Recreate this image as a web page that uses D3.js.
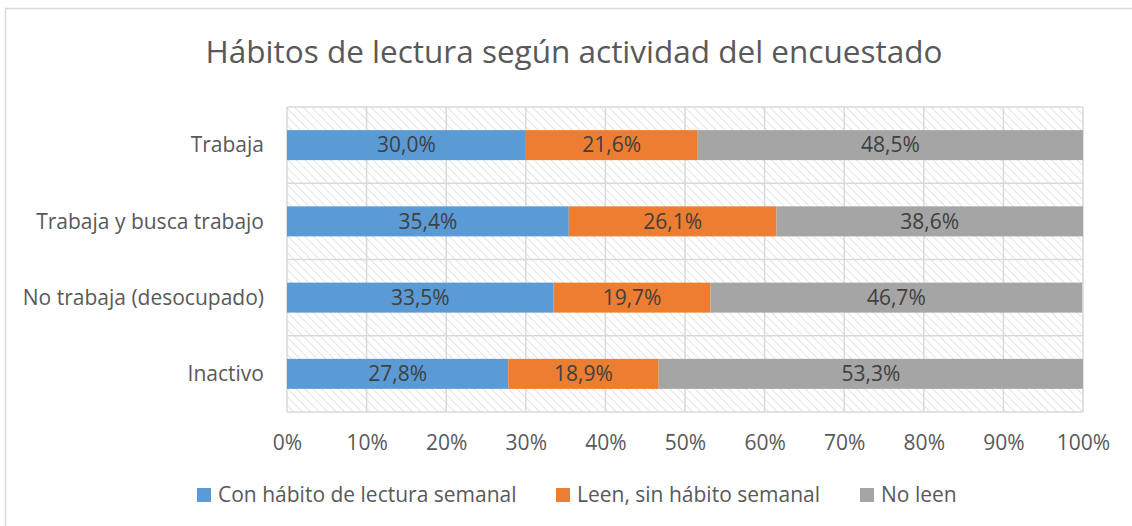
<!DOCTYPE html>
<html><head><meta charset="utf-8">
<script src="https://cdn.jsdelivr.net/npm/d3@7"></script>
<style>body{margin:0;background:#fff;}svg{display:block;font-family:"Open Sans",sans-serif;}</style>
</head><body><svg id="c" width="1132" height="526"></svg>
<script>
const title = "Hábitos de lectura según actividad del encuestado";
const categories = ["Trabaja", "Trabaja y busca trabajo", "No trabaja (desocupado)", "Inactivo"];
const seriesNames = ["Con hábito de lectura semanal", "Leen, sin hábito semanal", "No leen"];
const conHabito = [30.0, 35.4, 33.5, 27.8];
const sinHabito = [21.6, 26.1, 19.7, 18.9];
const noLeen = [48.5, 38.6, 46.7, 53.3];
const colors = ["#5B9BD5", "#ED7D31", "#A5A5A5"];
const xTicks = [0,10,20,30,40,50,60,70,80,90,100];

const svg = d3.select("#c");
const plot = {l: 287, r: 1083, t: 107, b: 412};
const FS = 21;

svg.append("rect").attr("x",5.5).attr("y",8.5).attr("width",1140).attr("height",540)
  .attr("fill","#fff").attr("stroke","#d9d9d9").attr("stroke-width",1.5);

const defs = svg.append("defs");
const pat = defs.append("pattern").attr("id","hatch").attr("patternUnits","userSpaceOnUse")
  .attr("width",6).attr("height",6).attr("patternTransform","rotate(-45)");
pat.append("rect").attr("width",6).attr("height",6).attr("fill","#fff");
pat.append("line").attr("x1",0).attr("y1",0).attr("x2",0).attr("y2",6)
  .attr("stroke","#d6d6d6").attr("stroke-width",1.3);

const x = d3.scaleLinear().domain([0,100]).range([plot.l, plot.r]);
const y = d3.scaleBand().domain(categories).range([plot.t, plot.b]).paddingInner(0).paddingOuter(0);

svg.append("rect").attr("x",plot.l).attr("y",plot.t).attr("width",plot.r-plot.l).attr("height",plot.b-plot.t)
  .attr("fill","url(#hatch)");

// gridlines
const g = svg.append("g");
g.selectAll("line.v").data(xTicks).join("line")
  .attr("x1",d=>x(d)).attr("x2",d=>x(d)).attr("y1",plot.t).attr("y2",plot.b)
  .attr("stroke","#d9d9d9").attr("stroke-width",1.5);
const hb = categories.map(c=>y(c)).concat([plot.b]);
g.selectAll("line.h").data(hb).join("line")
  .attr("x1",plot.l).attr("x2",plot.r).attr("y1",d=>d).attr("y2",d=>d)
  .attr("stroke","#d9d9d9").attr("stroke-width",1.5);

// stacked data
const rows = categories.map((c,i)=>({cat:c, s0:conHabito[i], s1:sinHabito[i], s2:noLeen[i]}));
const stack = d3.stack().keys(["s0","s1","s2"])(rows);
const barH = 30;
const fmt = v => d3.format(".1f")(v).replace(".", ",") + "%";

stack.forEach((layer, k) => {
  const gl = svg.append("g");
  gl.selectAll("rect").data(layer).join("rect")
    .attr("x", d=>x(d[0]))
    .attr("width", d=>Math.min(x(d[1]),plot.r)-x(d[0]))
    .attr("y", d=>y(d.data.cat)+y.bandwidth()/2-barH/2)
    .attr("height", barH)
    .attr("fill", colors[k]);
  gl.selectAll("text").data(layer).join("text")
    .attr("x", d=>(x(d[0])+Math.min(x(d[1]),plot.r))/2)
    .attr("y", d=>y(d.data.cat)+y.bandwidth()/2)
    .attr("dy","0.35em").attr("text-anchor","middle")
    .attr("font-size",FS).attr("fill","#404040")
    .text(d=>fmt(d[1]-d[0]));
});

// category labels
const yAxis = d3.axisLeft(y).tickSize(0).tickPadding(0);
const ya = svg.append("g").attr("transform",`translate(${plot.l-23},0)`).call(yAxis);
ya.select(".domain").remove();
ya.selectAll("text").attr("font-size",FS).attr("fill","#595959").attr("font-family","Open Sans").attr("dy","0.35em");

// x axis
const xAxis = d3.axisBottom(x).tickValues(xTicks).tickSize(0).tickPadding(0).tickFormat(d=>d+"%");
const xa = svg.append("g").attr("transform",`translate(0,${plot.b+31})`).call(xAxis);
xa.select(".domain").remove();
xa.selectAll("text").attr("font-size",FS).attr("fill","#595959").attr("font-family","Open Sans").attr("dy","0.35em");

// title
svg.append("text").attr("x",574).attr("y",52).attr("dy","0.35em").attr("text-anchor","middle")
  .attr("font-size",31.5).attr("fill","#595959").text(title);

// legend
const legX = [197, 556, 860];
const lg = svg.append("g");
seriesNames.forEach((n,i)=>{
  lg.append("rect").attr("x",legX[i]).attr("y",488).attr("width",14).attr("height",14).attr("fill",colors[i]);
  lg.append("text").attr("x",legX[i]+21).attr("y",495).attr("dy","0.35em")
    .attr("font-size",FS).attr("fill","#595959").text(n);
});
</script></body></html>
